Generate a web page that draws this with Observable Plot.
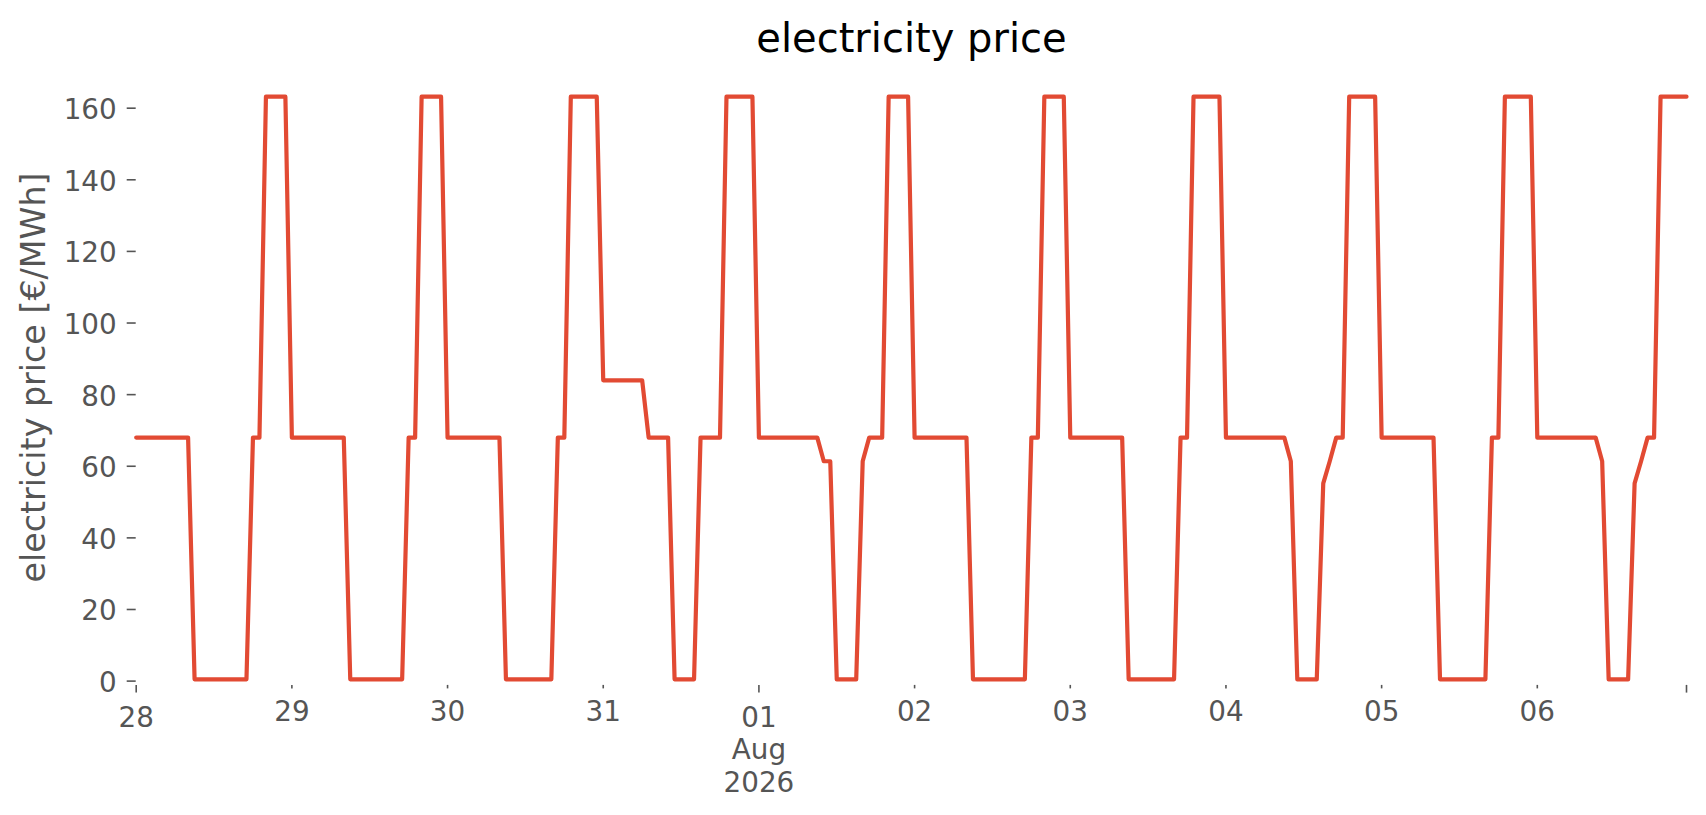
<!DOCTYPE html>
<html>
<head>
<meta charset="utf-8">
<script src="https://cdn.jsdelivr.net/npm/d3@7"></script>
<script src="https://cdn.jsdelivr.net/npm/@observablehq/plot@0.6"></script>
<style>
  body { margin: 0; background: #fff; }
  #wrap { position: relative; width: 1706px; height: 815px; overflow: hidden; }
  #chart { position: absolute; left: 0; top: 0; }
  #title { position: absolute; top: 18px; left: 911.5px; transform: translateX(-50%);
           font-family: "DejaVu Sans"; font-size: 40px; line-height: 40px; color: #000; white-space: nowrap; }
</style>
</head>
<body>
<div id="wrap">
  <div id="chart"></div>
  <div id="title">electricity price</div>
</div>
<script>
// hourly electricity price [€/MWh], one array per day (hours 0..23)
const startDate = "2026-07-28T00:00:00Z";
const jul28 = [68,68,68,68,68,68,68,68,68, 0.5,0.5,0.5,0.5,0.5,0.5,0.5,0.5,0.5, 68,68, 163.2,163.2,163.2,163.2];
const jul29 = [68,68,68,68,68,68,68,68,68, 0.5,0.5,0.5,0.5,0.5,0.5,0.5,0.5,0.5, 68,68, 163.2,163.2,163.2,163.2];
const jul30 = [68,68,68,68,68,68,68,68,68, 0.5,0.5,0.5,0.5,0.5,0.5,0.5,0.5, 68,68, 163.2,163.2,163.2,163.2,163.2];
const jul31 = [84,84,84,84,84,84,84, 68,68,68,68, 0.5,0.5,0.5,0.5, 68,68,68,68, 163.2,163.2,163.2,163.2,163.2];
const aug01 = [68,68,68,68,68,68,68,68,68,68, 61.4,61.4, 0.5,0.5,0.5,0.5, 61.4, 68,68,68, 163.2,163.2,163.2,163.2];
const aug02 = [68,68,68,68,68,68,68,68,68, 0.5,0.5,0.5,0.5,0.5,0.5,0.5,0.5,0.5, 68,68, 163.2,163.2,163.2,163.2];
const aug03 = [68,68,68,68,68,68,68,68,68, 0.5,0.5,0.5,0.5,0.5,0.5,0.5,0.5, 68,68, 163.2,163.2,163.2,163.2,163.2];
const aug04 = [68,68,68,68,68,68,68,68,68,68, 61.4, 0.5,0.5,0.5,0.5, 55.2, 61.4, 68,68, 163.2,163.2,163.2,163.2,163.2];
const aug05 = [68,68,68,68,68,68,68,68,68, 0.5,0.5,0.5,0.5,0.5,0.5,0.5,0.5, 68,68, 163.2,163.2,163.2,163.2,163.2];
const aug06 = [68,68,68,68,68,68,68,68,68,68, 61.4, 0.5,0.5,0.5,0.5, 55.2, 61.4, 68,68, 163.2,163.2,163.2,163.2,163.2];

const yTicks = [0, 20, 40, 60, 80, 100, 120, 140, 160];
const minorTickDates = ["2026-07-29","2026-07-30","2026-07-31","2026-08-02","2026-08-03","2026-08-04","2026-08-05","2026-08-06"];
const minorTickLabels = ["29","30","31","02","03","04","05","06"];
const majorTickDates = ["2026-07-28T00:00:00Z","2026-08-01T00:00:00Z","2026-08-06T23:00:00Z"];
const majorTickLabels = ["28","01\nAug\n2026",""];

const prices = [jul28, jul29, jul30, jul31, aug01, aug02, aug03, aug04, aug05, aug06].flat();
const t0 = Date.parse(startDate);
const data = prices.map((v, i) => ({t: new Date(t0 + i * 3600e3), v}));

const minorDates = minorTickDates.map(d => new Date(d + "T00:00:00Z"));
const majorDates = majorTickDates.map(d => new Date(d));
const minorMap = new Map(minorDates.map((d, i) => [+d, minorTickLabels[i]]));
const majorMap = new Map(majorDates.map((d, i) => [+d, majorTickLabels[i]]));

const grey = "#555555";
const chart = Plot.plot({
  width: 1706,
  height: 815,
  marginLeft: 135.7,
  marginRight: 20,
  marginTop: 69,
  marginBottom: 130.1,
  style: {fontFamily: "DejaVu Sans", background: "white", overflow: "visible"},
  x: {type: "utc", domain: [data[0].t, data[data.length - 1].t]},
  y: {domain: [-1.2, 170.8]},
  marks: [
    // y ticks
    Plot.axisY(yTicks, {anchor: "left", tickSize: 9, fill: "none", stroke: grey, strokeWidth: 1.6, label: null}),
    // y tick labels
    Plot.axisY(yTicks, {anchor: "left", tickSize: 0, tickPadding: 19.5, dy: 2, fontSize: 27.8, fill: grey, label: null, tickFormat: d => String(d)}),
    // x minor ticks + labels
    Plot.axisX(minorDates, {anchor: "bottom", tickSize: 3.5, tickPadding: 12.3, fontSize: 27.8, color: grey, strokeWidth: 1.6, label: null, tickFormat: d => minorMap.get(+d)}),
    // x major ticks + labels
    Plot.axisX(majorDates, {anchor: "bottom", tickSize: 7.7, tickPadding: 10.2, fontSize: 27.8, lineHeight: 1.18, color: grey, strokeWidth: 1.6, label: null, tickFormat: d => majorMap.get(+d)}),
    // y axis title
    Plot.text(["electricity price [€/MWh]"], {frameAnchor: "left", rotate: -90, dx: -101.9, text: d => d, fontSize: 33.3, fill: grey, textAnchor: "middle", lineAnchor: "middle"}),
    Plot.line(data, {x: "t", y: "v", stroke: "#E24A33", strokeWidth: 4.2, strokeLinejoin: "round"})
  ]
});
document.getElementById("chart").appendChild(chart);
</script>
</body>
</html>
